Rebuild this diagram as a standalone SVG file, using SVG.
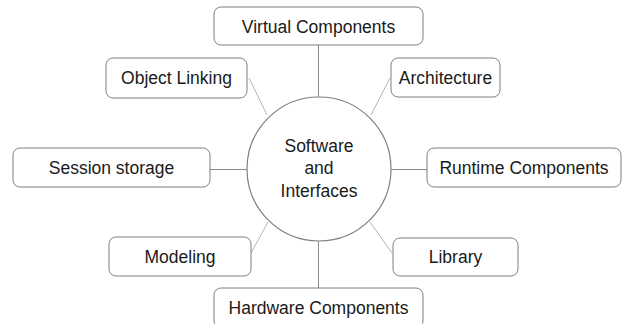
<svg xmlns="http://www.w3.org/2000/svg" width="622" height="324" viewBox="0 0 622 324">
  <style>
    .box { fill: #ffffff; stroke: #7f7f7f; stroke-width: 1; }
    .hub { fill: #ffffff; stroke: #7f7f7f; stroke-width: 1.2; }
    .lbl { font-family: "Liberation Sans", Arial, sans-serif; font-size: 17.5px; fill: #1a1a1a; text-anchor: middle; }
    .link { stroke: #8a8a8a; stroke-width: 1; fill: none; }
    .diag { stroke: #b4b4b4; stroke-width: 1; fill: none; }
  </style>
  <rect width="622" height="324" fill="#ffffff"/>

  <!-- connectors from the hub to each topic -->
  <g id="connectors">
    <line class="link" x1="318.5" y1="45" x2="318.5" y2="97"/>
    <line class="link" x1="318.5" y1="241" x2="318.5" y2="288"/>
    <line class="link" x1="210" y1="169.5" x2="247" y2="169.5"/>
    <line class="link" x1="391" y1="169.5" x2="427" y2="169.5"/>
    <line class="diag" x1="249" y1="78" x2="267" y2="115"/>
    <line class="diag" x1="390" y1="78" x2="371" y2="115"/>
    <line class="diag" x1="251" y1="253" x2="268" y2="222"/>
    <line class="diag" x1="392" y1="253" x2="370" y2="222"/>
  </g>

  <g id="hub">
    <circle class="hub" cx="319" cy="169" r="72"/>
    <text class="lbl" x="319" y="152">Software</text>
    <text class="lbl" x="319" y="174">and</text>
    <text class="lbl" x="319" y="197">Interfaces</text>
  </g>

  <g id="virtual-components">
    <rect class="box" x="214" y="7" width="209" height="38" rx="7"/>
    <text class="lbl" x="318.5" y="33">Virtual Components</text>
  </g>

  <g id="object-linking">
    <rect class="box" x="106" y="58" width="141" height="40" rx="7"/>
    <text class="lbl" x="176.5" y="84">Object Linking</text>
  </g>

  <g id="architecture">
    <rect class="box" x="391" y="58" width="109" height="39" rx="7"/>
    <text class="lbl" x="445.5" y="84">Architecture</text>
  </g>

  <g id="session-storage">
    <rect class="box" x="13" y="148" width="197" height="39" rx="7"/>
    <text class="lbl" x="111.5" y="174">Session storage</text>
  </g>

  <g id="runtime-components">
    <rect class="box" x="427" y="148" width="194" height="39" rx="7"/>
    <text class="lbl" x="524" y="174">Runtime Components</text>
  </g>

  <g id="modeling">
    <rect class="box" x="109" y="237" width="142" height="39" rx="7"/>
    <text class="lbl" x="180" y="263">Modeling</text>
  </g>

  <g id="library">
    <rect class="box" x="393" y="238" width="125" height="38" rx="7"/>
    <text class="lbl" x="455.5" y="263">Library</text>
  </g>

  <g id="hardware-components">
    <rect class="box" x="214" y="288" width="209" height="40" rx="7"/>
    <text class="lbl" x="318.5" y="314">Hardware Components</text>
  </g>
</svg>
